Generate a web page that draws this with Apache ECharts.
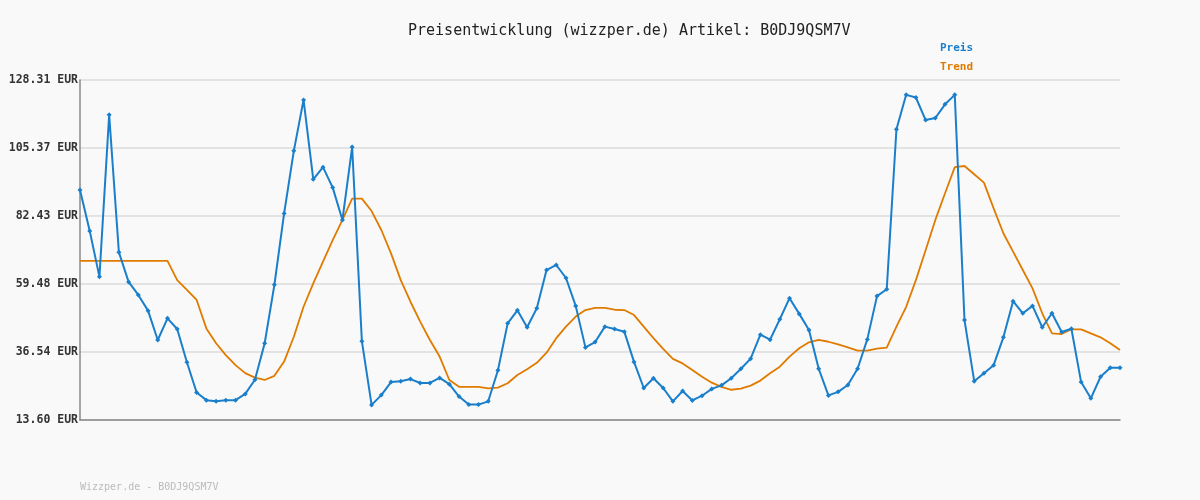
<!DOCTYPE html>
<html><head><meta charset="utf-8">
<script src="https://cdn.jsdelivr.net/npm/echarts@6/dist/echarts.min.js"></script>
<style>html,body{margin:0;padding:0;background:#f9f9f9}#c{width:1200px;height:500px}</style>
</head><body><div id="c"></div>
<script>
const preis = [91.2,77.4,61.9,116.6,70.2,60.2,55.8,50.5,40.6,47.9,44.3,33.1,22.9,20.3,19.9,20.3,20.3,22.4,27.2,39.5,59.2,83.3,104.4,121.6,94.8,98.9,92.0,81.1,105.7,40.2,18.7,22.0,26.4,26.7,27.4,26.1,26.1,27.8,25.7,21.5,18.8,18.8,19.9,30.4,46.2,50.6,44.9,51.3,64.2,65.9,61.5,52.1,38.1,39.9,45.1,44.3,43.4,33.2,24.4,27.7,24.4,19.9,23.4,20.2,21.8,24.1,25.3,27.7,30.9,34.3,42.4,40.7,47.6,54.7,49.4,44.0,30.9,21.9,23.1,25.4,30.9,40.8,55.4,57.7,111.7,123.3,122.4,114.8,115.5,120.1,123.3,47.3,26.7,29.4,32.1,41.5,53.7,49.6,52.1,44.9,49.6,43.3,44.4,26.4,20.9,28.2,31.2,31.2];
const trend = [67.3,67.3,67.3,67.3,67.3,67.3,67.3,67.3,67.3,67.3,60.8,57.5,54.1,44.5,39.5,35.5,32.1,29.4,27.9,27.1,28.5,33.3,41.7,51.8,59.7,67.0,74.3,81.1,88.3,88.3,84.1,77.7,69.8,60.8,53.5,46.8,40.6,35.0,27.1,24.8,24.8,24.8,24.3,24.5,26.0,28.8,30.7,32.9,36.3,41.2,45.1,48.5,50.7,51.4,51.4,50.8,50.7,49.0,45.1,41.2,37.6,34.2,32.7,30.5,28.2,26.2,24.8,23.8,24.2,25.2,26.9,29.4,31.6,35.0,37.8,39.8,40.6,40.0,39.1,38.1,37.0,37.0,37.7,38.0,45.1,51.8,60.8,70.9,81.1,90.1,98.9,99.3,96.5,93.7,85.0,76.6,70.4,64.2,58.0,49.6,42.8,42.6,44.2,44.2,42.8,41.5,39.5,37.2];
const categories = preis.map((_, i) => String(i + 1));
const yMin = 13.60, yMax = 128.31;
const font = 'DejaVu Sans Mono';
const chart = echarts.init(document.getElementById('c'));
chart.setOption({
  backgroundColor: '#f9f9f9',
  animation: false,
  textStyle: {fontFamily: font},
  title: {text: 'Preisentwicklung (wizzper.de) Artikel: B0DJ9QSM7V', left: 403, top: 19,
    textStyle: {fontFamily: font, fontSize: 15, fontWeight: 'normal', color: '#222'}},
  legend: {orient: 'vertical', left: 930, top: 38, itemGap: 8, itemWidth: 0, itemHeight: 0, icon: 'none',
    data: [{name: 'Preis', textStyle: {color: '#1a7fcb'}}, {name: 'Trend', textStyle: {color: '#e07b00'}}],
    textStyle: {fontFamily: font, fontSize: 11, fontWeight: 'bold'}},
  graphic: [{type: 'text', left: 80, top: 482, style: {text: 'Wizzper.de - B0DJ9QSM7V', fill: '#bbb', font: '10px "DejaVu Sans Mono"'}}],
  grid: {left: 80, right: 80, top: 80, bottom: 80},
  xAxis: {type: 'category', data: categories, boundaryGap: false,
    axisLine: {lineStyle: {color: '#888', width: 1.5}}, axisTick: {show: false}, axisLabel: {show: false}},
  yAxis: {type: 'value', min: yMin, max: yMax, interval: (yMax - yMin) / 5,
    axisLine: {show: true, lineStyle: {color: '#888', width: 1.5}}, axisTick: {show: false},
    splitLine: {lineStyle: {color: '#e3e3e3', width: 2}},
    axisLabel: {margin: 2, color: '#333', fontFamily: font, fontSize: 11.5, fontWeight: 'bold',
      formatter: v => v.toFixed(2) + ' EUR'}},
  series: [
    {name: 'Preis', type: 'line', data: preis, symbol: 'diamond', symbolSize: 5, showAllSymbol: true,
      lineStyle: {color: '#1a7fcb', width: 2}, itemStyle: {color: '#1a7fcb'}, z: 3},
    {name: 'Trend', type: 'line', data: trend, symbol: 'none',
      lineStyle: {color: '#e07b00', width: 1.8}, itemStyle: {color: '#e07b00'}, z: 2}
  ]
});
</script></body></html>
